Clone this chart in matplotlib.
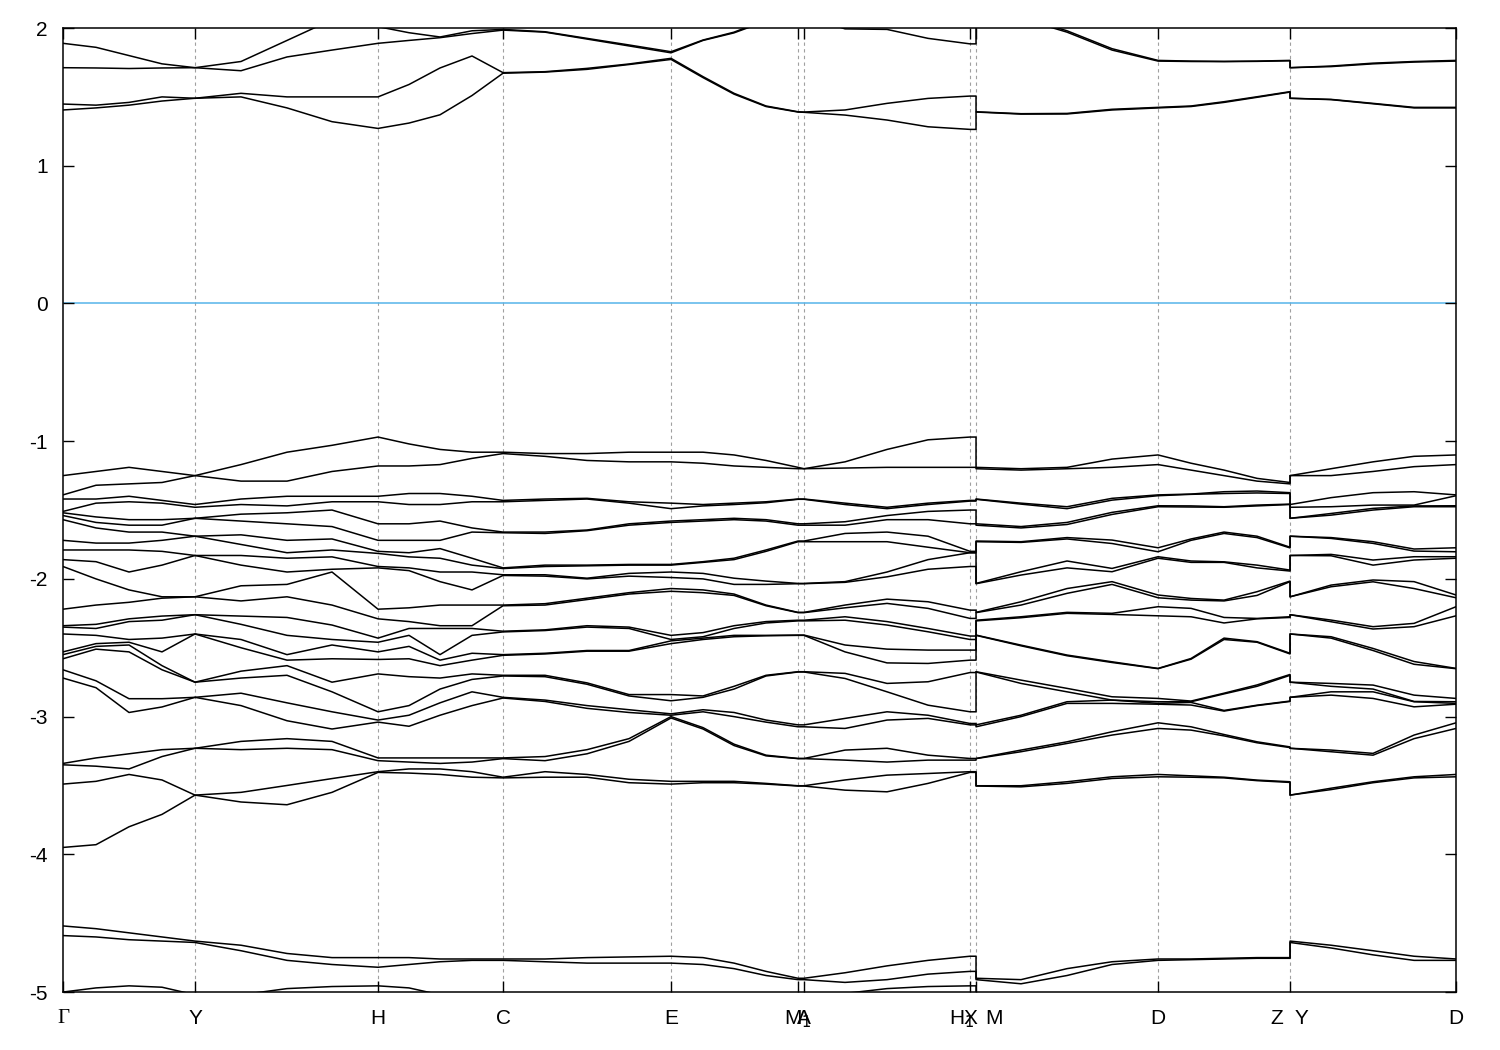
import numpy as np
import matplotlib.pyplot as plt

plt.rcParams['font.family'] = ['Liberation Sans', 'DejaVu Sans']
plt.rcParams['axes.unicode_minus'] = False

# k-path distance of every sampled point (breaks H1|M and Z|Y share a position)
kdist = [0.00, 0.33, 0.66, 0.99, 1.32, 1.78, 2.24, 2.69, 3.15, 3.46, 3.77, 4.09, 4.40,
         4.82, 5.24, 5.66, 6.08, 6.40, 6.71, 7.03, 7.35, 7.41, 7.82, 8.24, 8.65, 9.07,
         9.13, 9.13, 9.58, 10.04, 10.49, 10.95, 11.28, 11.61, 11.94, 12.27, 12.27,
         12.68, 13.10, 13.51, 13.93]

sym_k = [0.00, 1.32, 3.15, 4.40, 6.08, 7.35, 7.41, 9.07, 9.13, 10.95, 12.27, 13.93]
sym_lab = ['Γ', 'Y', 'H', 'C', 'E', r'M$_1$', 'A', 'X', r'H$_1$  M', 'D', 'Z  Y', 'D']

# band energies (eV) at each k-point: conduction, valence, lower bands
e_G = [1.889, 1.712, 1.448, 1.405,
       -1.25, -1.39, -1.42, -1.51, -1.52, -1.54, -1.57, -1.72, -1.79, -1.86, -1.91, -2.22,
       -2.34, -2.35, -2.40, -2.53, -2.55, -2.58, -2.66, -2.72, -3.34, -3.35, -3.49, -3.95,
       -4.52, -4.59, -5.00]
e_01 = [1.86, 1.71, 1.44, 1.42,
        -1.22, -1.32, -1.42, -1.45, -1.55, -1.59, -1.63, -1.74, -1.79, -1.875, -2.00, -2.19,
        -2.33, -2.36, -2.41, -2.47, -2.49, -2.51, -2.74, -2.79, -3.30, -3.36, -3.47, -3.93,
        -4.54, -4.60, -4.97]
e_02 = [1.80, 1.706, 1.46, 1.44,
        -1.19, -1.31, -1.40, -1.44, -1.57, -1.61, -1.66, -1.74, -1.79, -1.95, -2.08, -2.17,
        -2.29, -2.31, -2.44, -2.46, -2.48, -2.53, -2.87, -2.97, -3.27, -3.38, -3.42, -3.80,
        -4.57, -4.62, -4.955]
e_03 = [1.74, 1.71, 1.50, 1.47,
        -1.22, -1.30, -1.43, -1.45, -1.57, -1.61, -1.66, -1.72, -1.80, -1.90, -2.13, -2.14,
        -2.27, -2.30, -2.43, -2.53, -2.63, -2.66, -2.87, -2.93, -3.24, -3.29, -3.46, -3.71,
        -4.60, -4.63, -4.965]
e_Y = [1.712, 1.712, 1.49, 1.49,
       -1.25, -1.25, -1.46, -1.48, -1.56, -1.56, -1.69, -1.69, -1.83, -1.83, -2.13, -2.13,
       -2.26, -2.26, -2.40, -2.40, -2.75, -2.75, -2.86, -2.86, -3.23, -3.23, -3.57, -3.57,
       -4.63, -4.64, -5.02]
e_05 = [1.757, 1.69, 1.526, 1.50,
        -1.17, -1.29, -1.42, -1.46, -1.53, -1.58, -1.68, -1.75, -1.83, -1.90, -2.05, -2.16,
        -2.27, -2.33, -2.44, -2.50, -2.67, -2.72, -2.83, -2.92, -3.18, -3.24, -3.55, -3.62,
        -4.66, -4.70, -5.02]
e_06 = [1.91, 1.79, 1.50, 1.42,
        -1.08, -1.29, -1.40, -1.47, -1.52, -1.60, -1.72, -1.81, -1.85, -1.95, -2.04, -2.13,
        -2.28, -2.41, -2.55, -2.59, -2.63, -2.70, -2.90, -3.03, -3.16, -3.23, -3.50, -3.64,
        -4.72, -4.77, -4.975]
e_07 = [2.06, 1.84, 1.50, 1.32,
        -1.03, -1.22, -1.40, -1.44, -1.50, -1.62, -1.71, -1.79, -1.84, -1.93, -1.95, -2.19,
        -2.335, -2.44, -2.48, -2.58, -2.75, -2.82, -2.965, -3.09, -3.18, -3.24, -3.45, -3.55,
        -4.75, -4.80, -4.96]
e_H = [2.01, 1.889, 1.50, 1.271,
       -0.97, -1.18, -1.40, -1.44, -1.60, -1.72, -1.80, -1.815, -1.91, -1.92, -2.22, -2.29,
       -2.43, -2.46, -2.53, -2.585, -2.69, -2.965, -3.025, -3.04, -3.30, -3.32, -3.40, -3.405,
       -4.75, -4.82, -4.955]
e_09 = [1.966, 1.91, 1.59, 1.31,
        -1.02, -1.18, -1.38, -1.46, -1.60, -1.72, -1.81, -1.84, -1.92, -1.94, -2.21, -2.31,
        -2.36, -2.41, -2.49, -2.58, -2.71, -2.92, -2.99, -3.07, -3.30, -3.33, -3.38, -3.41,
        -4.75, -4.80, -4.97]
e_10 = [1.935, 1.93, 1.71, 1.37,
        -1.06, -1.17, -1.38, -1.46, -1.58, -1.72, -1.78, -1.85, -1.95, -2.02, -2.19, -2.34,
        -2.36, -2.55, -2.59, -2.63, -2.72, -2.80, -2.90, -2.99, -3.30, -3.34, -3.38, -3.42,
        -4.76, -4.78, -5.02]
e_11 = [1.98, 1.96, 1.797, 1.51,
        -1.08, -1.125, -1.40, -1.44, -1.63, -1.66, -1.85, -1.90, -1.95, -2.08, -2.19, -2.34,
        -2.36, -2.41, -2.54, -2.59, -2.69, -2.73, -2.82, -2.92, -3.30, -3.33, -3.40, -3.44,
        -4.76, -4.77, -5.06]
e_C = [1.99, 1.985, 1.676, 1.672,
       -1.08, -1.09, -1.43, -1.44, -1.66, -1.665, -1.92, -1.925, -1.97, -1.975, -2.19, -2.195,
       -2.38, -2.385, -2.55, -2.555, -2.70, -2.705, -2.86, -2.865, -3.30, -3.305, -3.44, -3.445,
       -4.76, -4.77, -5.08]
e_13 = [1.973, 1.97, 1.683, 1.68,
        -1.09, -1.11, -1.42, -1.43, -1.66, -1.67, -1.90, -1.91, -1.97, -1.98, -2.18, -2.19,
        -2.37, -2.375, -2.54, -2.545, -2.70, -2.71, -2.88, -2.89, -3.29, -3.32, -3.40, -3.44,
        -4.76, -4.78, -5.08]
e_14 = [1.925, 1.92, 1.707, 1.70,
        -1.09, -1.14, -1.415, -1.42, -1.645, -1.65, -1.90, -1.905, -1.995, -2.00, -2.14, -2.15,
        -2.34, -2.35, -2.52, -2.525, -2.755, -2.765, -2.92, -2.94, -3.24, -3.27, -3.42, -3.44,
        -4.75, -4.79, -5.08]
e_15 = [1.877, 1.87, 1.739, 1.735,
        -1.08, -1.15, -1.44, -1.45, -1.60, -1.61, -1.895, -1.90, -1.96, -1.98, -2.10, -2.11,
        -2.35, -2.36, -2.52, -2.525, -2.84, -2.85, -2.95, -2.97, -3.16, -3.18, -3.455, -3.48,
        -4.745, -4.79, -5.08]
e_E = [1.828, 1.82, 1.78, 1.772,
       -1.08, -1.15, -1.45, -1.49, -1.58, -1.59, -1.895, -1.90, -1.95, -1.99, -2.07, -2.09,
       -2.41, -2.44, -2.45, -2.47, -2.84, -2.885, -2.98, -2.99, -3.00, -3.01, -3.47, -3.49,
       -4.74, -4.79, -5.08]
e_17 = [1.913, 1.91, 1.647, 1.64,
        -1.08, -1.16, -1.46, -1.47, -1.57, -1.58, -1.875, -1.88, -1.96, -2.00, -2.08, -2.10,
        -2.39, -2.42, -2.43, -2.44, -2.85, -2.86, -2.95, -2.965, -3.08, -3.09, -3.47, -3.48,
        -4.75, -4.80, -5.08]
e_18 = [1.97, 1.965, 1.526, 1.52,
        -1.10, -1.18, -1.45, -1.46, -1.56, -1.57, -1.85, -1.86, -1.995, -2.04, -2.11, -2.12,
        -2.34, -2.36, -2.41, -2.42, -2.78, -2.80, -2.97, -3.00, -3.20, -3.21, -3.47, -3.48,
        -4.79, -4.83, -5.08]
e_19 = [2.06, 2.05, 1.434, 1.43,
        -1.14, -1.19, -1.44, -1.447, -1.57, -1.58, -1.79, -1.80, -2.016, -2.04, -2.19, -2.195,
        -2.31, -2.32, -2.41, -2.413, -2.70, -2.705, -3.025, -3.04, -3.28, -3.285, -3.485, -3.49,
        -4.85, -4.88, -5.08]
e_M = [2.10, 2.09, 1.392, 1.39,
       -1.19, -1.20, -1.42, -1.422, -1.60, -1.61, -1.725, -1.73, -2.033, -2.035, -2.243, -2.245,
       -2.30, -2.305, -2.408, -2.41, -2.674, -2.676, -3.06, -3.074, -3.304, -3.305, -3.502, -3.504,
       -4.90, -4.91, -5.08]
e_A = [2.10, 2.09, 1.39, 1.388,
       -1.20, -1.20, -1.42, -1.422, -1.60, -1.61, -1.725, -1.73, -2.033, -2.035, -2.243, -2.245,
       -2.30, -2.305, -2.408, -2.41, -2.674, -2.676, -3.06, -3.074, -3.304, -3.305, -3.502, -3.504,
       -4.90, -4.91, -5.08]
e_22 = [2.10, 1.994, 1.405, 1.368,
        -1.15, -1.195, -1.45, -1.46, -1.585, -1.61, -1.67, -1.73, -2.02, -2.025, -2.19, -2.21,
        -2.275, -2.30, -2.48, -2.53, -2.686, -2.723, -3.013, -3.086, -3.243, -3.316, -3.46, -3.534,
        -4.86, -4.93, -5.01]
e_23 = [2.12, 1.99, 1.453, 1.332,
        -1.06, -1.19, -1.48, -1.49, -1.54, -1.57, -1.66, -1.73, -1.95, -1.985, -2.147, -2.178,
        -2.31, -2.335, -2.51, -2.61, -2.759, -2.82, -2.965, -3.025, -3.23, -3.33, -3.425, -3.546,
        -4.81, -4.91, -4.975]
e_24 = [2.08, 1.925, 1.489, 1.283,
        -0.99, -1.19, -1.45, -1.46, -1.51, -1.57, -1.69, -1.77, -1.86, -1.93, -2.166, -2.214,
        -2.36, -2.384, -2.517, -2.614, -2.747, -2.917, -2.99, -3.013, -3.28, -3.316, -3.413, -3.485,
        -4.77, -4.87, -4.96]
e_X = [2.04, 1.885, 1.506, 1.264,
       -0.97, -1.19, -1.43, -1.435, -1.50, -1.60, -1.80, -1.81, -1.81, -1.91, -2.227, -2.287,
       -2.415, -2.44, -2.517, -2.59, -2.68, -2.965, -3.05, -3.06, -3.304, -3.316, -3.40, -3.405,
       -4.74, -4.85, -4.955]
e_28 = [2.08, 2.07, 1.378, 1.375,
        -1.20, -1.21, -1.45, -1.457, -1.62, -1.63, -1.73, -1.735, -1.948, -1.972, -2.166, -2.19,
        -2.275, -2.282, -2.481, -2.486, -2.735, -2.759, -2.99, -3.00, -3.243, -3.255, -3.502, -3.51,
        -4.91, -4.94, -5.08]
e_29 = [1.98, 1.97, 1.38, 1.376,
        -1.19, -1.20, -1.476, -1.49, -1.59, -1.605, -1.70, -1.71, -1.87, -1.92, -2.07, -2.105,
        -2.243, -2.25, -2.553, -2.558, -2.795, -2.82, -2.892, -2.904, -3.183, -3.195, -3.473, -3.485,
        -4.83, -4.88, -5.08]
e_30 = [1.85, 1.84, 1.41, 1.405,
        -1.13, -1.19, -1.415, -1.428, -1.517, -1.532, -1.718, -1.743, -1.924, -1.948, -2.02, -2.04,
        -2.25, -2.258, -2.602, -2.607, -2.856, -2.88, -2.88, -2.904, -3.11, -3.134, -3.437, -3.449,
        -4.78, -4.80, -5.08]
e_D = [1.765, 1.76, 1.424, 1.42,
       -1.10, -1.17, -1.39, -1.396, -1.469, -1.476, -1.774, -1.803, -1.839, -1.85, -2.117, -2.137,
       -2.202, -2.268, -2.65, -2.652, -2.868, -2.892, -2.904, -2.91, -3.045, -3.086, -3.42, -3.437,
       -4.76, -4.77, -5.08]
e_32 = [1.76, 1.757, 1.434, 1.43,
        -1.16, -1.21, -1.384, -1.386, -1.47, -1.478, -1.71, -1.72, -1.87, -1.88, -2.142, -2.154,
        -2.214, -2.275, -2.578, -2.583, -2.887, -2.892, -2.897, -2.916, -3.074, -3.098, -3.43, -3.44,
        -4.76, -4.765, -5.08]
e_33 = [1.758, 1.756, 1.465, 1.46,
        -1.21, -1.25, -1.367, -1.38, -1.476, -1.48, -1.66, -1.67, -1.876, -1.88, -2.154, -2.16,
        -2.28, -2.32, -2.43, -2.44, -2.83, -2.835, -2.955, -2.96, -3.13, -3.14, -3.44, -3.445,
        -4.755, -4.76, -5.08]
e_34 = [1.76, 1.758, 1.501, 1.497,
        -1.27, -1.29, -1.362, -1.376, -1.464, -1.47, -1.69, -1.70, -1.90, -1.92, -2.093, -2.12,
        -2.287, -2.29, -2.456, -2.46, -2.77, -2.78, -2.917, -2.92, -3.183, -3.19, -3.461, -3.465,
        -4.75, -4.755, -5.08]
e_Z = [1.765, 1.762, 1.538, 1.535,
       -1.30, -1.31, -1.374, -1.38, -1.457, -1.46, -1.77, -1.775, -1.936, -1.943, -2.016, -2.02,
       -2.275, -2.28, -2.54, -2.545, -2.694, -2.70, -2.887, -2.89, -3.22, -3.225, -3.473, -3.478,
       -4.75, -4.755, -5.08]
e_37 = [1.724, 1.72, 1.482, 1.48,
        -1.20, -1.25, -1.41, -1.476, -1.525, -1.537, -1.70, -1.706, -1.822, -1.832, -2.045, -2.057,
        -2.299, -2.311, -2.42, -2.43, -2.759, -2.78, -2.82, -2.844, -3.243, -3.255, -3.52, -3.53,
        -4.66, -4.68, -5.08]
e_38 = [1.745, 1.74, 1.453, 1.45,
        -1.15, -1.22, -1.374, -1.464, -1.488, -1.50, -1.73, -1.742, -1.863, -1.90, -2.008, -2.021,
        -2.347, -2.364, -2.505, -2.52, -2.771, -2.80, -2.82, -2.868, -3.267, -3.28, -3.473, -3.48,
        -4.70, -4.73, -5.08]
e_39 = [1.757, 1.753, 1.424, 1.42,
        -1.11, -1.185, -1.367, -1.464, -1.47, -1.476, -1.783, -1.798, -1.839, -1.863, -2.02, -2.07,
        -2.323, -2.347, -2.60, -2.62, -2.844, -2.89, -2.892, -2.929, -3.134, -3.16, -3.437, -3.445,
        -4.74, -4.77, -5.08]

path = [e_G, e_01, e_02, e_03, e_Y, e_05, e_06, e_07, e_H, e_09, e_10, e_11, e_C,
        e_13, e_14, e_15, e_E, e_17, e_18, e_19, e_M, e_A, e_22, e_23, e_24, e_X,
        e_X, e_M, e_28, e_29, e_30, e_D, e_32, e_33, e_34, e_Z, e_Y,
        e_37, e_38, e_39, e_D]

# bands ordered by energy at each k-point
eig = np.sort(np.array(path), axis=1)

fig = plt.figure(figsize=(15, 10.5), dpi=100)
ax = fig.add_axes([0.042, 0.0552, 0.9287, 0.9181])

for x in sym_k[1:-1]:
    ax.axvline(x, color='#a0a0a0', ls=(0, (3, 3)), lw=0.8, zorder=0)
ax.axhline(0, color='#56b4e9', lw=1.1, zorder=1)

for i in range(eig.shape[1]):
    ax.plot(kdist, eig[:, i], color='black', lw=1.1, zorder=2)

ax.set_xlim(sym_k[0], sym_k[-1])
ax.set_ylim(-5, 2)
ax.set_xticks(sym_k)
ax.set_xticklabels(sym_lab)
ax.set_yticks(range(-5, 3))
ax.get_xticklabels()[0].set_family(['Liberation Serif', 'DejaVu Serif'])
ax.get_xticklabels()[0].set_fontsize(16)

ax.tick_params(direction='in', top=True, right=True, length=8, width=1,
               labelsize=15, color='black')
ax.tick_params(axis='x', pad=12)
ax.tick_params(axis='y', pad=11)
for s in ax.spines.values():
    s.set_linewidth(1.1)

fig.savefig('out.png', dpi=100)
